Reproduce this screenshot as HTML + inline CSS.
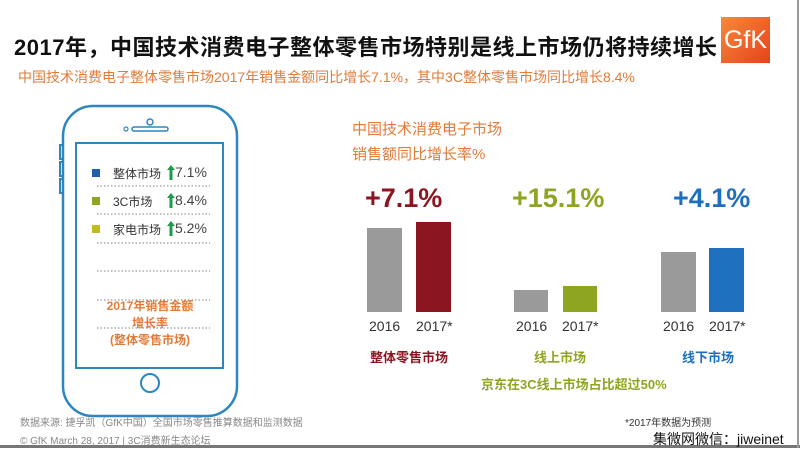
<!DOCTYPE html>
<html><head><meta charset="utf-8"><style>
body{margin:0;width:800px;height:448px;background:#fff;overflow:hidden;position:relative;font-family:"Liberation Sans","Noto Sans CJK SC",sans-serif}
.a{position:absolute;white-space:nowrap}
.bar{position:absolute}
</style></head><body>
<div class="a" style="left:14px;top:30px;font-size:22px;font-weight:bold;color:#111;letter-spacing:0.5px">2017年，中国技术消费电子整体零售市场特别是线上市场仍将持续增长</div>
<div class="a" style="left:721px;top:17px;width:49px;height:46px;background:linear-gradient(135deg,#f58a3a,#e8411c);color:#fff;font-size:25px;line-height:46px;text-align:center;z-index:2">GfK</div>
<div class="a" style="left:18px;top:67px;font-size:14px;color:#e07b39">中国技术消费电子整体零售市场2017年销售金额同比增长7.1%，其中3C整体零售市场同比增长8.4%</div>

<svg class="a" style="left:0;top:0" width="800" height="448">
<rect x="63" y="106" width="174" height="310" rx="30" fill="none" stroke="#2e86c1" stroke-width="2.5"/>
<rect x="76" y="143" width="147" height="225" fill="none" stroke="#2e86c1" stroke-width="2"/>
<circle cx="150" cy="383" r="9" fill="none" stroke="#2e86c1" stroke-width="2"/>
<circle cx="150" cy="122" r="3" fill="none" stroke="#2e86c1" stroke-width="1.5"/>
<rect x="132" y="127" width="36" height="4" rx="2" fill="none" stroke="#2e86c1" stroke-width="1.5"/>
<circle cx="126" cy="129" r="2" fill="none" stroke="#2e86c1" stroke-width="1.2"/>
<path d="M63 145 h-3 v14 h3 M63 162 h-3 v14 h3 M63 179 h-3 v14 h3" fill="none" stroke="#2e86c1" stroke-width="2"/>
<g stroke="#999" stroke-width="1.2" stroke-dasharray="1.5,2">
<line x1="97" y1="186" x2="210" y2="186"/><line x1="97" y1="214" x2="210" y2="214"/>
<line x1="97" y1="243" x2="210" y2="243"/><line x1="97" y1="271" x2="210" y2="271"/>
<line x1="97" y1="300" x2="210" y2="300"/><line x1="97" y1="328" x2="210" y2="328"/>
</g>
<rect x="92" y="169" width="8" height="8" fill="#1f5fae"/>
<rect x="92" y="197" width="8" height="8" fill="#8ea521"/>
<rect x="92" y="225" width="8" height="8" fill="#c2bb1e"/>
<g fill="#1e9b48"><path d="M171 165 l-4 5 h2.5 v10 h3 v-10 h2.5z"/><path d="M171 193 l-4 5 h2.5 v10 h3 v-10 h2.5z"/><path d="M171 221 l-4 5 h2.5 v10 h3 v-10 h2.5z"/></g>
<line x1="0" y1="446.5" x2="800" y2="446.5" stroke="#777" stroke-width="3"/>
<line x1="798" y1="0" x2="798" y2="448" stroke="#999" stroke-width="2"/>
</svg>
<div class="a" style="left:113px;top:165px;font-size:12px;color:#333">整体市场</div>
<div class="a" style="left:113px;top:193px;font-size:12px;color:#333">3C市场</div>
<div class="a" style="left:113px;top:221px;font-size:12px;color:#333">家电市场</div>
<div class="a" style="left:175px;top:164px;font-size:14px;color:#444">7.1%</div>
<div class="a" style="left:175px;top:192px;font-size:14px;color:#444">8.4%</div>
<div class="a" style="left:175px;top:220px;font-size:14px;color:#444">5.2%</div>
<div class="a" style="left:100px;top:298px;width:100px;text-align:center;font-size:12px;font-weight:bold;color:#e07b39;line-height:17px">2017年销售金额<br>增长率<br>(整体零售市场)</div>

<div class="a" style="left:352px;top:117px;font-size:15px;color:#e07b39;line-height:25px">中国技术消费电子市场<br>销售额同比增长率%</div>
<div class="a" style="left:365px;top:183px;font-size:27px;font-weight:bold;color:#8b1520">+7.1%</div>
<div class="a" style="left:512px;top:183px;font-size:27px;font-weight:bold;color:#8ea521">+15.1%</div>
<div class="a" style="left:673px;top:183px;font-size:27px;font-weight:bold;color:#1f6fbf">+4.1%</div>
<div class="bar" style="left:367px;top:228px;width:35px;height:84px;background:#9a9a9a"></div>
<div class="bar" style="left:416px;top:222px;width:35px;height:90px;background:#8b1520"></div>
<div class="bar" style="left:514px;top:290px;width:34px;height:22px;background:#9a9a9a"></div>
<div class="bar" style="left:563px;top:286px;width:34px;height:26px;background:#8ea521"></div>
<div class="bar" style="left:661px;top:252px;width:35px;height:60px;background:#9a9a9a"></div>
<div class="bar" style="left:709px;top:248px;width:35px;height:64px;background:#1f6fbf"></div>
<div class="a" style="left:369px;top:318px;font-size:14px;color:#333">2016</div>
<div class="a" style="left:416px;top:318px;font-size:14px;color:#333">2017*</div>
<div class="a" style="left:516px;top:318px;font-size:14px;color:#333">2016</div>
<div class="a" style="left:562px;top:318px;font-size:14px;color:#333">2017*</div>
<div class="a" style="left:663px;top:318px;font-size:14px;color:#333">2016</div>
<div class="a" style="left:709px;top:318px;font-size:14px;color:#333">2017*</div>
<div class="a" style="left:370px;top:347px;font-size:13px;font-weight:bold;color:#8b1520">整体零售市场</div>
<div class="a" style="left:534px;top:347px;font-size:13px;font-weight:bold;color:#8ea521">线上市场</div>
<div class="a" style="left:682px;top:347px;font-size:13px;font-weight:bold;color:#1f6fbf">线下市场</div>
<div class="a" style="left:481px;top:374px;font-size:13px;font-weight:bold;color:#8ea521">京东在3C线上市场占比超过50%</div>

<div class="a" style="left:20px;top:414px;font-size:10px;color:#888">数据来源: 捷孚凯（GfK中国）全国市场零售推算数据和监测数据</div>
<div class="a" style="left:20px;top:432px;font-size:10px;color:#888">© GfK March 28, 2017 | 3C消费新生态论坛</div>
<div class="a" style="left:625px;top:414px;font-size:10px;color:#333">*2017年数据为预测</div>
<div class="a" style="left:653px;top:429px;font-size:14px;color:#111">集微网微信：jiweinet</div>
</body></html>
